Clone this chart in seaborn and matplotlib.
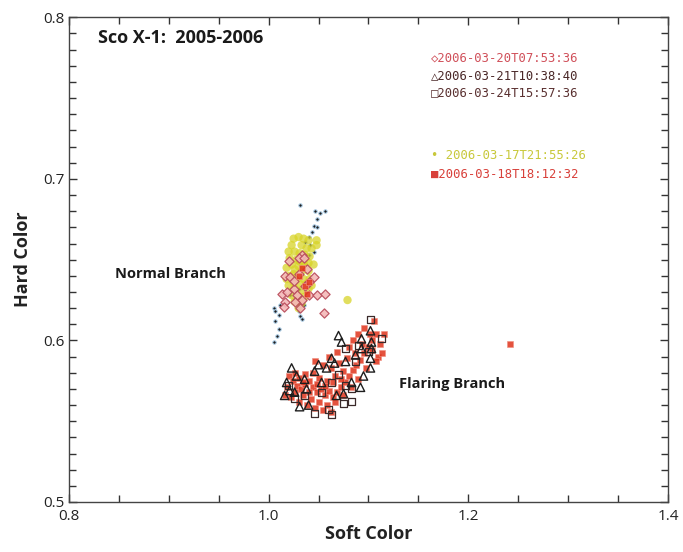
import numpy as np
import pandas as pd
import matplotlib
matplotlib.use("Agg")
import matplotlib.pyplot as plt
from matplotlib.ticker import MultipleLocator, FormatStrFormatter
import seaborn as sns

# Observation labels (legend text)
obs_labels = [
    "\u25C72006-03-20T07:53:36",
    "\u25B32006-03-21T10:38:40",
    "\u25A12006-03-24T15:57:36",
    "\u2022 2006-03-17T21:55:26",
    "\u25A02006-03-18T18:12:32",
]

# 2006-03-17 (yellow circles)
soft_0317 = [1.025, 1.030, 1.035, 1.040, 1.048, 1.023, 1.033, 1.038, 1.043, 1.020,
             1.026, 1.031, 1.036, 1.041, 1.021, 1.028, 1.035, 1.040, 1.023, 1.030,
             1.036, 1.018, 1.026, 1.033, 1.040, 1.021, 1.028, 1.035, 1.041, 1.025,
             1.031, 1.038, 1.020, 1.026, 1.033, 1.040, 1.023, 1.030, 1.036, 1.026,
             1.033, 1.030, 1.048, 1.045, 1.018, 1.043, 1.025, 1.031, 1.079]
hard_0317 = [0.663, 0.664, 0.663, 0.662, 0.662, 0.659, 0.659, 0.657, 0.657, 0.655,
             0.655, 0.654, 0.653, 0.652, 0.651, 0.650, 0.649, 0.648, 0.647, 0.646,
             0.646, 0.645, 0.644, 0.643, 0.643, 0.640, 0.639, 0.638, 0.638, 0.636,
             0.635, 0.635, 0.634, 0.632, 0.631, 0.632, 0.628, 0.627, 0.627, 0.624,
             0.623, 0.620, 0.659, 0.647, 0.638, 0.634, 0.641, 0.649, 0.625]

# 2006-03-18 (red filled squares)
soft_0318 = [1.020, 1.024, 1.028, 1.032, 1.036, 1.040, 1.044, 1.048, 1.052, 1.056,
             1.060, 1.064, 1.068, 1.072, 1.076, 1.080, 1.084, 1.088, 1.092, 1.096,
             1.100, 1.104, 1.108, 1.112, 1.116, 1.110, 1.098, 1.090, 1.082, 1.074,
             1.066, 1.058, 1.050, 1.042, 1.034, 1.026, 1.018, 1.022, 1.030, 1.038,
             1.046, 1.054, 1.062, 1.044, 1.050, 1.058, 1.066, 1.074, 1.062, 1.070,
             1.078, 1.086, 1.080, 1.094, 1.102, 1.106, 1.036, 1.030, 1.054, 1.046,
             1.040, 1.048, 1.056, 1.064, 1.072, 1.034, 1.026, 1.016, 1.060, 1.090,
             1.084, 1.096, 1.068, 1.104, 1.114, 1.108,
             1.036, 1.040, 1.030, 1.033, 1.038, 1.242]
hard_0318 = [0.578, 0.575, 0.572, 0.570, 0.573, 0.575, 0.571, 0.568, 0.570, 0.566,
             0.569, 0.565, 0.568, 0.571, 0.574, 0.578, 0.582, 0.585, 0.588, 0.592,
             0.596, 0.600, 0.604, 0.598, 0.604, 0.590, 0.583, 0.576, 0.571, 0.566,
             0.562, 0.560, 0.562, 0.564, 0.566, 0.568, 0.571, 0.565, 0.562, 0.560,
             0.558, 0.557, 0.556, 0.580, 0.577, 0.575, 0.578, 0.581, 0.583, 0.586,
             0.589, 0.592, 0.596, 0.598, 0.604, 0.612, 0.579, 0.577, 0.585, 0.587,
             0.568, 0.573, 0.572, 0.574, 0.576, 0.574, 0.580, 0.566, 0.590, 0.604,
             0.600, 0.608, 0.593, 0.594, 0.592, 0.587,
             0.634, 0.636, 0.640, 0.645, 0.629, 0.598]

# 2006-03-20 (open diamonds)
soft_0320 = [1.033, 1.030, 1.020, 1.016, 1.021, 1.030, 1.045, 1.040, 1.036, 1.013,
             1.018, 1.025, 1.028, 1.040, 1.048, 1.056, 1.033, 1.026, 1.016, 1.015,
             1.031, 1.055, 1.035, 1.025, 1.038]
hard_0320 = [0.653, 0.651, 0.649, 0.640, 0.639, 0.641, 0.639, 0.636, 0.634, 0.629,
             0.630, 0.632, 0.628, 0.628, 0.628, 0.629, 0.625, 0.624, 0.624, 0.621,
             0.620, 0.617, 0.651, 0.637, 0.644]

# 2006-03-21 (open triangles)
soft_0321 = [1.070, 1.073, 1.093, 1.102, 1.103, 1.103, 1.102, 1.066, 1.077, 1.050,
             1.046, 1.023, 1.018, 1.028, 1.036, 1.016, 1.026, 1.038, 1.092, 1.102,
             1.095, 1.040, 1.031, 1.068, 1.075, 1.083, 1.058, 1.063, 1.087, 1.093,
             1.053, 1.021]
hard_0321 = [0.603, 0.599, 0.601, 0.606, 0.599, 0.595, 0.589, 0.586, 0.587, 0.585,
             0.581, 0.583, 0.574, 0.578, 0.576, 0.566, 0.568, 0.570, 0.571, 0.583,
             0.578, 0.560, 0.559, 0.566, 0.567, 0.574, 0.583, 0.589, 0.591, 0.595,
             0.574, 0.569]

# 2006-03-24 (open squares)
soft_0324 = [1.102, 1.063, 1.083, 1.060, 1.046, 1.075, 1.053, 1.083, 1.100, 1.087,
             1.070, 1.036, 1.026, 1.077, 1.113, 1.090, 1.020, 1.063, 1.077]
hard_0324 = [0.613, 0.554, 0.562, 0.557, 0.555, 0.561, 0.568, 0.570, 0.593, 0.587,
             0.579, 0.566, 0.564, 0.595, 0.601, 0.597, 0.572, 0.574, 0.572]

# Other pointings (small black dots)
soft_other = [1.031, 1.046, 1.051, 1.056, 1.048, 1.045, 1.048, 1.043, 1.040, 1.036,
              1.041, 1.045, 1.036, 1.028, 1.036, 1.026, 1.021, 1.035, 1.030, 1.031,
              1.033, 1.011, 1.005, 1.006, 1.010, 1.006, 1.010, 1.008, 1.005, 1.040,
              1.030]
hard_other = [0.684, 0.680, 0.679, 0.680, 0.675, 0.671, 0.670, 0.667, 0.664, 0.661,
              0.659, 0.655, 0.651, 0.649, 0.645, 0.638, 0.628, 0.622, 0.618, 0.615,
              0.613, 0.622, 0.620, 0.618, 0.616, 0.612, 0.607, 0.603, 0.599, 0.653,
              0.632]

sns.set_theme(style="ticks")
plt.rcParams["font.family"] = ["Open Sans", "DejaVu Sans"]

fig = plt.figure(figsize=(6.83, 5.52), dpi=100)
ax = fig.add_axes([0.101, 0.0906, 0.877, 0.878])

df_other = pd.DataFrame({"soft": soft_other, "hard": hard_other})
df17 = pd.DataFrame({"soft": soft_0317, "hard": hard_0317})
df18 = pd.DataFrame({"soft": soft_0318, "hard": hard_0318})
df20 = pd.DataFrame({"soft": soft_0320, "hard": hard_0320})
df21 = pd.DataFrame({"soft": soft_0321, "hard": hard_0321})
df24 = pd.DataFrame({"soft": soft_0324, "hard": hard_0324})

sns.scatterplot(data=df_other, x="soft", y="hard", ax=ax, marker="o", s=6,
                color="#202020", edgecolor="#a8cce8", linewidth=0.7, zorder=2)
sns.scatterplot(data=df17, x="soft", y="hard", ax=ax, marker="o", s=36,
                color="#d8d428", edgecolor="none", alpha=0.75, zorder=3)
sns.scatterplot(data=df20, x="soft", y="hard", ax=ax, marker="D", s=22,
                color="#f4b8b8", edgecolor="#b84a5a", linewidth=0.9, alpha=0.9, zorder=4)
sns.scatterplot(data=df18, x="soft", y="hard", ax=ax, marker="s", s=20,
                color="#e0341c", edgecolor="#f09080", linewidth=0.5, alpha=0.85, zorder=5)
sns.scatterplot(data=df24, x="soft", y="hard", ax=ax, marker="s", s=26,
                facecolor="none", edgecolor="#3a2a2a", linewidth=0.9, zorder=6)
sns.scatterplot(data=df21, x="soft", y="hard", ax=ax, marker="^", s=36,
                facecolor="none", edgecolor="#1e1e1e", linewidth=1.0, zorder=7)

ax.set_xlim(0.8, 1.4)
ax.set_ylim(0.5, 0.8)
ax.xaxis.set_major_locator(MultipleLocator(0.2))
ax.xaxis.set_minor_locator(MultipleLocator(0.05))
ax.yaxis.set_major_locator(MultipleLocator(0.1))
ax.yaxis.set_minor_locator(MultipleLocator(0.01))
ax.xaxis.set_major_formatter(FormatStrFormatter("%.1f"))
ax.yaxis.set_major_formatter(FormatStrFormatter("%.1f"))
ax.tick_params(which="both", direction="in", top=True, right=True,
               color="#333333", labelsize=11, labelcolor="#222222")
ax.tick_params(axis="x", which="major", pad=5)
ax.tick_params(axis="y", which="major", pad=3)
ax.tick_params(which="major", length=6, width=1)
ax.tick_params(which="minor", length=5, width=1)
for sp in ax.spines.values():
    sp.set_color("#444444")
    sp.set_linewidth(1.0)

ax.set_xlabel("Soft Color", fontsize=13, fontweight="bold", color="#222222", labelpad=1)
ax.set_ylabel("Hard Color", fontsize=13, fontweight="bold", color="#222222", labelpad=8)

ax.text(0.048, 0.958, "Sco X-1:  2005-2006", transform=ax.transAxes,
        fontsize=13, fontweight="bold", color="#1a1a1a", va="center", ha="left")
ax.text(0.077, 0.470, "Normal Branch", transform=ax.transAxes,
        fontsize=10.5, fontweight="bold", color="#1a1a1a", va="center", ha="left")
ax.text(0.551, 0.244, "Flaring Branch", transform=ax.transAxes,
        fontsize=10.5, fontweight="bold", color="#1a1a1a", va="center", ha="left")

legend_colors = ["#d0505a", "#4a2828", "#5a3030", "#c8c83a", "#d8403a"]
legend_y = [0.915, 0.880, 0.845, 0.715, 0.676]
for lab, col, yy in zip(obs_labels, legend_colors, legend_y):
    ax.text(0.605, yy, lab, transform=ax.transAxes, fontsize=8.8,
            color=col, va="center", ha="left",
            family=["DejaVu Sans Mono", "DejaVu Sans"])

fig.savefig("out.png", dpi=100)
